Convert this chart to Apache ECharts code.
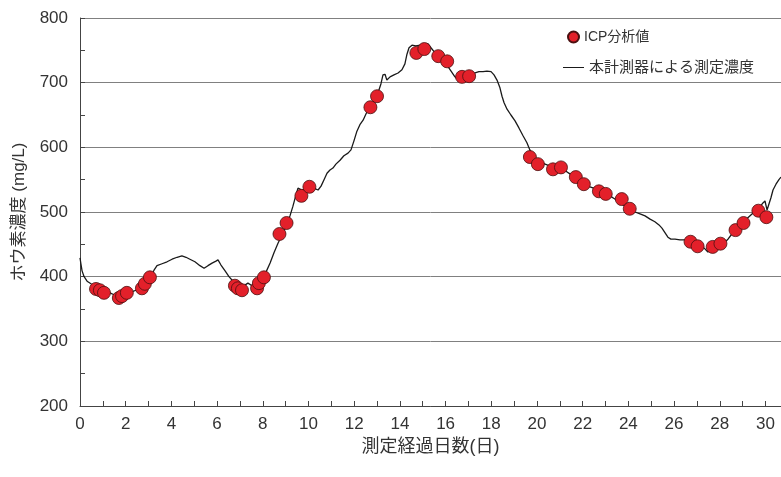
<!DOCTYPE html>
<html>
<head>
<meta charset="utf-8">
<script src="https://cdn.jsdelivr.net/npm/echarts@6/dist/echarts.min.js"></script>
<style>html,body{margin:0;padding:0;background:#fff}#c{width:781px;height:477px}</style>
</head>
<body>
<div id="c"></div>
<script>
// ICP analysis values [day, mg/L]
const icpDays = [0.70,0.87,1.05,1.70,1.84,2.05,2.71,2.84,3.06,
  6.78,6.91,7.09,7.75,7.83,8.05,
  8.73,9.04,9.69,10.04,12.71,13.00,
  14.72,15.07,15.68,16.07,16.72,17.03,
  19.69,20.04,20.70,21.05,21.70,22.05,22.71,23.01,23.71,24.06,
  26.72,27.03,27.69,28.03,28.69,29.04,29.69,30.04];
const icpValues = [381,379,375,367,370,375,382,389,399,
  386,382,379,382,390,399,
  466,483,525,539,662,679,
  746,752,741,733,709,710,
  585,574,566,569,554,543,532,528,520,505,
  454,447,446,451,472,483,502,492];

// Sensor measured concentration trace [day, mg/L]
const sensorDays = [0,0.04,0.09,0.18,0.31,0.48,0.66,0.88,1.09,1.31,1.49,1.66,1.84,2.01,2.23,2.45,2.63,2.80,2.98,3.11,3.24,3.37,3.59,3.81,4.03,4.25,4.46,4.64,4.81,5.03,5.25,5.43,5.60,5.78,5.95,6.04,6.17,6.35,6.52,6.70,6.91,7.13,7.35,7.53,7.70,7.83,7.96,8.05,8.14,8.18,8.32,8.49,8.67,8.84,9.02,9.19,9.32,9.45,9.54,9.72,9.89,10.11,10.28,10.42,10.55,10.68,10.81,10.94,11.07,11.20,11.38,11.55,11.73,11.86,11.99,12.12,12.25,12.39,12.52,12.65,12.78,12.91,13.04,13.17,13.26,13.35,13.43,13.57,13.74,13.92,14.09,14.22,14.31,14.40,14.53,14.70,14.88,15.05,15.23,15.36,15.54,15.71,15.89,16.06,16.24,16.41,16.59,16.76,16.94,17.11,17.29,17.46,17.64,17.81,17.99,18.12,18.25,18.38,18.47,18.56,18.69,18.86,19.04,19.21,19.39,19.56,19.69,19.82,20.00,20.22,20.44,20.66,20.88,21.09,21.27,21.44,21.66,21.88,22.10,22.32,22.54,22.76,22.98,23.19,23.41,23.63,23.85,24.07,24.29,24.51,24.73,24.95,25.16,25.34,25.47,25.60,25.73,25.86,26.04,26.26,26.48,26.70,26.91,27.13,27.35,27.48,27.66,27.83,28.01,28.18,28.36,28.53,28.71,28.88,29.06,29.23,29.41,29.58,29.76,29.89,29.98,30.07,30.15,30.24,30.33,30.46,30.59,30.68];
const sensorValues = [429,420,409,400,393,389,386,381,378,375,372,369,370,373,376,379,382,387,393,401,410,417,420,423,427,430,432,430,427,423,417,413,417,421,424,426,418,409,400,393,389,385,390,386,382,386,395,404,407,404,421,437,452,464,478,494,509,526,537,534,536,539,536,534,540,550,560,565,568,574,580,587,591,596,610,625,635,642,652,661,667,675,684,698,712,713,704,709,712,715,720,729,744,754,758,757,758,760,760,754,746,740,735,727,718,709,703,704,707,712,715,717,717,718,717,712,704,692,679,669,659,650,641,630,618,607,596,588,580,576,573,570,570,568,563,559,554,548,543,539,536,532,529,525,520,515,509,505,500,497,494,489,485,480,475,468,461,458,458,457,457,455,452,449,443,438,443,446,449,452,458,466,474,480,485,491,497,503,508,514,517,503,500,522,534,543,550,554];

const xTickLabels = ['0','2','4','6','8','10','12','14','16','18','20','22','24','26','28','30'];
const yTickLabels = ['200','300','400','500','600','700','800'];
const seriesNames = ['ICP分析値', '本計測器による測定濃度'];

const FONT = '"Liberation Sans", "Noto Sans CJK JP", sans-serif';
const chart = echarts.init(document.getElementById('c'), null, {renderer: 'canvas'});

chart.setOption({
  animation: false,
  backgroundColor: '#fff',
  grid: {left: 80, right: 0, top: 18, bottom: 71, containLabel: false},
  legend: [
    {
      data: [{name: seriesNames[0], icon: 'circle'}],
      left: 562, top: 25, orient: 'vertical',
      itemWidth: 11, itemHeight: 11, itemGap: 4,
      textStyle: {fontFamily: FONT, fontSize: 14, color: '#333'}
    },
    {
      data: [{name: seriesNames[1], icon: 'rect'}],
      left: 558, top: 55, orient: 'vertical',
      itemWidth: 21, itemHeight: 1, itemGap: 4,
      textStyle: {fontFamily: FONT, fontSize: 15, color: '#333'}
    }
  ],
  xAxis: {
    type: 'value', min: 0, max: 30.68, interval: 1,
    name: '測定経過日数(日)', nameLocation: 'middle', nameGap: 21,
    nameTextStyle: {fontFamily: FONT, fontSize: 18, color: '#333'},
    axisLine: {show: true, lineStyle: {color: '#444', width: 1}},
    axisTick: {show: true, inside: true, length: 5, lineStyle: {color: '#444'}},
    splitLine: {show: false},
    axisLabel: {
      fontFamily: FONT, fontSize: 17, color: '#333', margin: 10,
      showMaxLabel: false,
      formatter: function (v) {
        const s = String(Math.round(v * 100) / 100);
        return xTickLabels.indexOf(s) >= 0 ? s : '';
      }
    }
  },
  yAxis: {
    type: 'value', min: 200, max: 800, interval: 100,
    name: 'ホウ素濃度 (mg/L)', nameLocation: 'middle', nameGap: 52, nameRotate: 90,
    nameTextStyle: {fontFamily: FONT, fontSize: 17, color: '#333'},
    axisLine: {show: true, lineStyle: {color: '#444', width: 1}},
    axisTick: {show: true, inside: true, length: 5, lineStyle: {color: '#444'}},
    minorTick: {show: true, splitNumber: 2, length: 5, lineStyle: {color: '#444'}},
    splitLine: {show: true, lineStyle: {color: '#808080', width: 1}},
    axisLabel: {
      fontFamily: FONT, fontSize: 17, color: '#333', margin: 12,
      formatter: function (v) {
        const s = String(v);
        return yTickLabels.indexOf(s) >= 0 ? s : '';
      }
    }
  },
  series: [
    {
      name: seriesNames[0], type: 'scatter', z: 5,
      symbol: 'circle', symbolSize: 13,
      itemStyle: {color: '#e3202a', borderColor: '#4a1010', borderWidth: 0.8, opacity: 1},
      data: icpDays.map((d, i) => [d, icpValues[i]])
    },
    {
      name: seriesNames[1], type: 'line', z: 3,
      symbol: 'none', showSymbol: false,
      lineStyle: {color: '#1a1a1a', width: 1.3},
      itemStyle: {color: '#1a1a1a'},
      data: sensorDays.map((d, i) => [d, sensorValues[i]])
    }
  ]
});
</script>
</body>
</html>
